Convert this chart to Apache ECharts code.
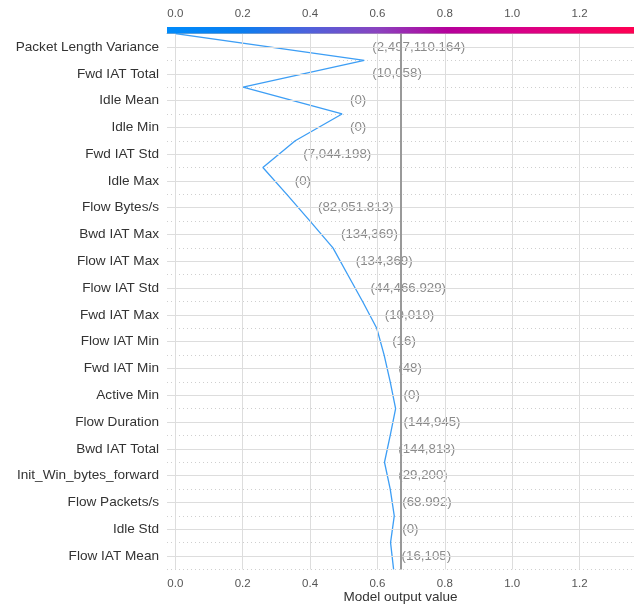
<!DOCTYPE html>
<html><head><meta charset="utf-8">
<script src="https://cdn.jsdelivr.net/npm/echarts@6/dist/echarts.min.js"></script>
<style>html,body{margin:0;padding:0;background:#fff}#c{width:634px;height:604px}</style>
</head><body><div id="c"></div>
<script>
// Features, top to bottom
const features = ["Packet Length Variance","Fwd IAT Total","Idle Mean","Idle Min","Fwd IAT Std","Idle Max","Flow Bytes/s","Bwd IAT Max","Flow IAT Max","Flow IAT Std","Fwd IAT Max","Flow IAT Min","Fwd IAT Min","Active Min","Flow Duration","Bwd IAT Total","Init_Win_bytes_forward","Flow Packets/s","Idle Std","Flow IAT Mean"];
const featureValues = ["2,497,110.164","10,058","0","0","7,044.198","0","82,051.813","134,369","134,369","44,466.929","10,010","16","48","0","144,945","144,818","29,200","68.992","0","16,105"];
// Cumulative model output at each boundary (top boundary first, bottom last)
const cumulative = [0.000,0.561,0.201,0.495,0.356,0.260,0.331,0.400,0.468,0.512,0.556,0.598,0.620,0.638,0.654,0.638,0.621,0.638,0.650,0.639,0.648];
const baseValue = 0.673;
const xTicks = [0.0,0.2,0.4,0.6,0.8,1.0,1.2];
const xMin = -0.0246, xMax = 1.3616;

const rows = features.map((f,i)=>i+0.5);
const lineData = cumulative.map((v,i)=>[v,i]);
const labelData = features.map((f,i)=>[Math.max(cumulative[i],cumulative[i+1]), i+0.5, featureValues[i]]);

const chart = echarts.init(document.getElementById('c'), null, {renderer:'canvas'});
const FONT = 'Liberation Sans, Arial, sans-serif';
chart.setOption({
  animation:false,
  backgroundColor:'#fff',
  grid:[
    {left:167, right:0, top:33.6, bottom:34.6, outerBoundsMode:'none', containLabel:false},
    {left:167, right:0, top:27, height:6.6, outerBoundsMode:'none', containLabel:false}
  ],
  xAxis:[
    {type:'value', gridIndex:0, min:xMin, max:xMax,
     axisLine:{show:true, lineStyle:{color:'#bbbbbb', width:1}},
     axisTick:{show:true, length:3, customValues:xTicks, lineStyle:{color:'#bbbbbb'}},
     axisLabel:{customValues:xTicks, formatter:v=>v.toFixed(1), color:'#555', fontSize:11.5, fontFamily:FONT, margin:8},
     splitLine:{show:false},
     name:'Model output value', nameLocation:'middle', nameGap:21, nameMoveOverlap:false,
     nameTextStyle:{color:'#333', fontSize:13.5, fontFamily:FONT}},
    {type:'value', gridIndex:1, position:'top', min:xMin, max:xMax,
     axisLine:{show:false},
     axisTick:{show:true, length:3, customValues:xTicks, lineStyle:{color:'#aaaaaa'}},
     axisLabel:{customValues:xTicks, formatter:v=>v.toFixed(1), color:'#555', fontSize:11.5, fontFamily:FONT, margin:7},
     splitLine:{show:false}}
  ],
  yAxis:[
    {type:'value', gridIndex:0, min:0, max:20, interval:1, inverse:true,
     axisLine:{show:false}, axisTick:{show:false},
     axisLabel:{customValues:rows, formatter:v=>features[Math.round(v-0.5)], color:'#333', fontSize:13.6, fontFamily:FONT, margin:8},
     splitLine:{show:true, lineStyle:{color:'#cfcfcf', type:[1,3], width:1}}},
    {type:'value', gridIndex:1, min:0, max:1, show:false}
  ],
  series:[
    {type:'line', xAxisIndex:0, yAxisIndex:0, data:[], z:1, silent:true,
     markLine:{silent:true, symbol:'none', animation:false, label:{show:false},
       lineStyle:{color:'#dddddd', type:'solid', width:1},
       data: xTicks.map(v=>({xAxis:v})).concat(rows.map(v=>({yAxis:v})))}},
    {type:'line', xAxisIndex:0, yAxisIndex:0, data:[], z:2, silent:true,
     markLine:{silent:true, symbol:'none', animation:false, label:{show:false},
       lineStyle:{color:'#999999', type:'solid', width:2},
       data:[{xAxis:baseValue}]}},
    {type:'line', xAxisIndex:0, yAxisIndex:0, data:lineData, z:3, symbol:'none',
     lineStyle:{color:'#3d9ef5', width:1.3}, silent:true},
    {type:'scatter', xAxisIndex:0, yAxisIndex:0, data:labelData, z:4, symbolSize:0, silent:true,
     label:{show:true, position:'right', distance:8, formatter:p=>'('+p.data[2]+')',
       color:'#6e6e6e', fontSize:13.3, fontFamily:FONT}},
    {type:'custom', xAxisIndex:1, yAxisIndex:1, data:[[xMin,xMax]], silent:true, z:5,
     renderItem:(params, api)=>{
       const p0 = api.coord([api.value(0), 1]);
       const p1 = api.coord([api.value(1), 0]);
       return {type:'rect', shape:{x:p0[0], y:p0[1], width:p1[0]-p0[0], height:p1[1]-p0[1]},
         style:{fill:new echarts.graphic.LinearGradient(0,0,1,0,[
           {offset:0, color:'#008bfb'},{offset:0.16, color:'#0a7ef0'},{offset:0.3, color:'#4d62dc'},
           {offset:0.45, color:'#8a43bf'},{offset:0.6, color:'#b5009b'},{offset:0.75, color:'#d6008a'},
           {offset:0.9, color:'#f0006a'},{offset:1, color:'#ff0052'}])}};
     }}
  ]
});
</script></body></html>
